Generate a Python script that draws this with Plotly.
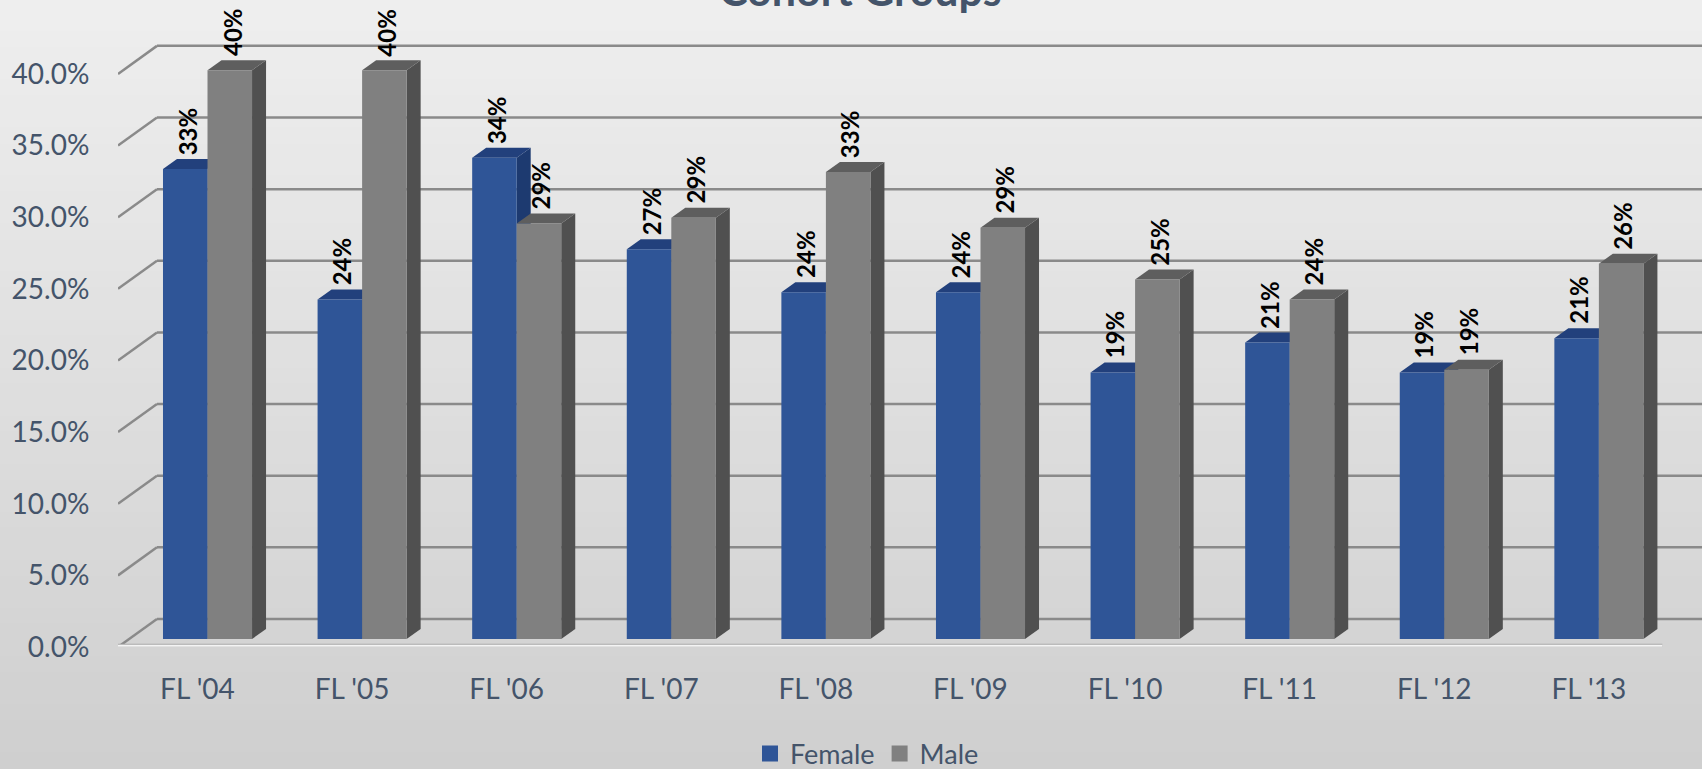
import numpy as np
import plotly.graph_objects as go

# ---------------- data ----------------
categories = ["FL '04", "FL '05", "FL '06", "FL '07", "FL '08",
              "FL '09", "FL '10", "FL '11", "FL '12", "FL '13"]
female = [0.328, 0.237, 0.336, 0.272, 0.242, 0.242, 0.186, 0.207, 0.186, 0.210]
male = [0.397, 0.397, 0.290, 0.294, 0.326, 0.287, 0.251, 0.237, 0.188, 0.262]
y_ticks = [0, 0.05, 0.10, 0.15, 0.20, 0.25, 0.30, 0.35, 0.40]
series_names = ["Female", "Male"]
title_text = "Cohort Groups"

# ---------------- style ----------------
W, H = 1702, 769
PLOT_L, PLOT_B = 118, 647         # plot-area left / bottom in pixels
ML, MR, MT = PLOT_L, 0, 40
MB = H - PLOT_B
TXT = "#44546A"
FONT = "Lato, 'Open Sans', sans-serif"
F_FRONT, F_TOP, F_SIDE = "#2F5597", "#22407C", "#1D3A70"
M_FRONT, M_TOP, M_SIDE = "#808080", "#5E5E5E", "#505050"
GRID = "#8A8A8A"

BAR_W = 0.288
OFF_F, OFF_M = -0.223, 0.065
DX = 0.0906          # depth offset in x units
DY = 0.00698         # depth offset in y units (bar faces)
BAR_BASE = 0.00558   # bars stand slightly behind the front floor edge
BACK_DY = 0.0196     # back wall offset in y units
X_RANGE = [-0.514, 9.732]
BACK_X0 = -0.262
Y_RANGE = [0, 0.4237]

plot_h = H - MT - MB
plot_w = W - ML - MR


def xp(px):
    return (px - PLOT_L) / plot_w


def yp(py):
    return (PLOT_B - py) / plot_h


idx = np.arange(len(categories))

fig = go.Figure()
shapes = []

# background gradient (horizontal bands, paper coords)
nb = 48
c0, c1 = np.array([0xEF, 0xEF, 0xEF]), np.array([0xCF, 0xCF, 0xCF])
for k in range(nb):
    p0 = k * H / nb - 1
    p1 = (k + 1) * H / nb + 1
    c = (c0 + (c1 - c0) * (k + 0.5) / nb).astype(int)
    shapes.append(dict(type="rect", xref="paper", yref="paper",
                       x0=xp(-10), x1=xp(W + 10),
                       y0=yp(p1), y1=yp(p0),
                       fillcolor="rgb(%d,%d,%d)" % tuple(c),
                       line=dict(width=0), layer="below"))

# back-wall gridlines with left diagonals
for v in y_ticks:
    shapes.append(dict(type="line", xref="x", yref="y",
                       x0=X_RANGE[0], y0=v, x1=BACK_X0, y1=v + BACK_DY,
                       line=dict(color=GRID, width=2.5), layer="between"))
    shapes.append(dict(type="line", xref="x", yref="y",
                       x0=BACK_X0, y0=v + BACK_DY, x1=X_RANGE[1] + 1, y1=v + BACK_DY,
                       line=dict(color=GRID, width=2.5), layer="between"))

# front floor edge
shapes.append(dict(type="line", xref="x", yref="y", x0=X_RANGE[0], x1=9.475,
                   y0=0.0008, y1=0.0008, line=dict(color="#A8A8A8", width=4),
                   layer="between"))
shapes.append(dict(type="line", xref="x", yref="y", x0=X_RANGE[0], x1=9.475,
                   y0=0.0008, y1=0.0008, line=dict(color="#F4F4F4", width=2),
                   layer="between"))


def faces(xl, v, top_col, side_col):
    xr = xl + BAR_W
    b = BAR_BASE
    t = v + BAR_BASE
    side = "M{a},{b} L{c},{d} L{c},{e} L{a},{f} Z".format(
        a=xr, b=b, c=xr + DX, d=b + DY, e=t + DY, f=t)
    top = "M{a},{b} L{c},{d} L{e},{d} L{f},{b} Z".format(
        a=xl, b=t, c=xl + DX, d=t + DY, e=xr + DX, f=xr)
    return [dict(type="path", xref="x", yref="y", path=side, fillcolor=side_col,
                 line=dict(width=0), layer="between"),
            dict(type="path", xref="x", yref="y", path=top, fillcolor=top_col,
                 line=dict(width=0), layer="between")]


for i in idx:
    shapes += faces(i + OFF_F, female[i], F_TOP, F_SIDE)
    shapes += faces(i + OFF_M, male[i], M_TOP, M_SIDE)

# front faces (bars)
fig.add_trace(go.Bar(x=idx, y=female, base=BAR_BASE, name=series_names[0],
                     width=BAR_W, offset=OFF_F, showlegend=False,
                     marker=dict(color=F_FRONT, line=dict(width=0))))
fig.add_trace(go.Bar(x=idx, y=male, base=BAR_BASE, name=series_names[1],
                     width=BAR_W, offset=OFF_M, showlegend=False,
                     marker=dict(color=M_FRONT, line=dict(width=0))))

# legend entries with larger square swatches
for nm, col in zip(series_names, (F_FRONT, M_FRONT)):
    fig.add_trace(go.Scatter(x=[None], y=[None], mode="markers", name=nm,
                             marker=dict(symbol="square", size=18, color=col,
                                         line=dict(width=0))))

annotations = []
for i in idx:
    for vals, off in ((female, OFF_F), (male, OFF_M)):
        annotations.append(dict(
            x=i + off + BAR_W / 2, y=vals[i] + BAR_BASE, xref="x", yref="y",
            text="{:.0%}".format(vals[i]), showarrow=False, textangle=-90,
            xanchor="center", yanchor="bottom", yshift=12, xshift=2,
            font=dict(family=FONT, size=24, color="#000000", weight="bold")))

annotations.append(dict(
    x=xp(860), y=yp(-11), xref="paper", yref="paper",
    text="<b>" + title_text + "</b>", showarrow=False, xanchor="center",
    yanchor="middle", font=dict(family=FONT, size=43, color=TXT)))

fig.update_layout(
    width=W, height=H,
    margin=dict(l=ML, r=MR, t=MT, b=MB, pad=0, autoexpand=False),
    paper_bgcolor="#DDDDDD", plot_bgcolor="rgba(0,0,0,0)",
    barmode="overlay",
    showlegend=True,
    legend=dict(orientation="h", x=xp(867), xanchor="center",
                y=yp(754), yanchor="middle",
                font=dict(family=FONT, size=27, color=TXT),
                bgcolor="rgba(0,0,0,0)", itemwidth=30, tracegroupgap=0),
    xaxis=dict(range=X_RANGE, tickmode="array", tickvals=idx, ticktext=categories,
               showgrid=False, zeroline=False, showline=False, automargin=False,
               ticks="outside", ticklen=17, tickcolor="rgba(0,0,0,0)",
               tickfont=dict(family=FONT, size=28, color=TXT)),
    yaxis=dict(range=Y_RANGE, tickmode="array", tickvals=y_ticks,
               tickformat=".1%", showgrid=False, zeroline=False, showline=False,
               automargin=False,
               ticks="outside", ticklen=22, tickcolor="rgba(0,0,0,0)",
               tickfont=dict(family=FONT, size=28, color=TXT)),
    shapes=shapes,
    annotations=annotations,
)

fig.write_html("out.html", config={"displayModeBar": False},
               post_script="document.body.style.margin='0px';"
                           "document.body.style.overflow='hidden';")
